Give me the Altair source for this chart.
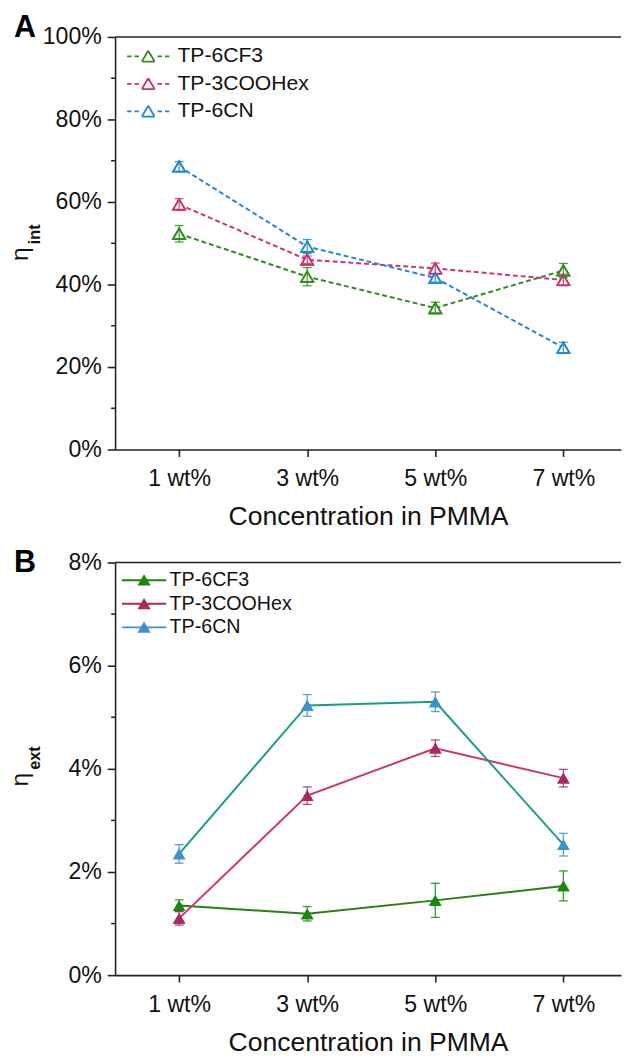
import altair as alt
import pandas as pd

# ---------------- data ----------------
conc = [1, 3, 5, 7]
series = ["TP-6CF3", "TP-3COOHex", "TP-6CN"]

# Panel A: eta_int (%)
int_cf3 = [52.3, 41.9, 34.3, 43.4]
int_cf3_err = [2.0, 2.2, 1.4, 1.7]
int_hex = [59.4, 46.0, 43.9, 41.1]
int_hex_err = [1.4, 0.9, 1.3, 1.4]
int_cn = [68.6, 49.2, 41.6, 24.7]
int_cn_err = [1.2, 1.7, 1.0, 1.3]

# Panel B: eta_ext (%)
ext_cf3 = [1.35, 1.19, 1.45, 1.73]
ext_cf3_err = [0.11, 0.14, 0.33, 0.29]
ext_hex = [1.10, 3.48, 4.40, 3.82]
ext_hex_err = [0.13, 0.17, 0.16, 0.17]
ext_cn = [2.35, 5.23, 5.30, 2.53]
ext_cn_err = [0.18, 0.21, 0.19, 0.22]

a_ticks = [0, 20, 40, 60, 80, 100]
a_minor = [10, 30, 50, 70, 90]
b_ticks = [0, 2, 4, 6, 8]
b_minor = [1, 3, 5, 7]

A_colors = ["#2e8b1e", "#d0306c", "#1f88cc"]
B_line = ["#2b7d16", "#cc3373", "#1b9c8a"]
B_marker = ["#178a0c", "#a8285f", "#3b92cb"]

FONT = "Liberation Sans"
W, H = 515, 420


def build(vals, errs):
    rows, caps = [], []
    for s, v, e in zip(series, vals, errs):
        for c, val, er in zip(conc, v, e):
            rows.append({"series": s, "conc": c, "val": val, "lo": val - er, "hi": val + er})
            caps.append({"series": s, "conc": c, "cap": val - er})
            caps.append({"series": s, "conc": c, "cap": val + er})
    return pd.DataFrame(rows), pd.DataFrame(caps)


dfA, capA = build([int_cf3, int_hex, int_cn], [int_cf3_err, int_hex_err, int_cn_err])
dfB, capB = build([ext_cf3, ext_hex, ext_cn], [ext_cf3_err, ext_hex_err, ext_cn_err])

xaxis = alt.Axis(values=conc, labelExpr="datum.value + ' wt%'", title="Concentration in PMMA",
                 grid=False, tickSize=7, labelPadding=11, titlePadding=14)


def xenc():
    return alt.X("conc:Q", scale=alt.Scale(domain=[0, 7.9], nice=False, zero=False), axis=xaxis)


def yaxis(vals):
    return alt.Axis(values=vals, labelExpr="datum.value + '%'", title=None, grid=False,
                    tickSize=8, labelPadding=6)


# open triangle drawn as separate segments (no fill area) with dashed line pieces
pathA = ("M-4.3,0H-3.4M-2.8,0H-1.9M1.9,0H2.8M3.4,0H4.3"
         "M0,-1.15L1.3,1.05M1.3,1.05L-1.3,1.05M-1.3,1.05L0,-1.15")
# solid line drawn as thin filled bars plus a filled triangle (all fill-based)
pathB = ("M-4.5,-0.2H-0.6V0.2H-4.5Z M0.6,-0.2H4.5V0.2H0.6Z "
         "M0,-1.2L1.35,1.1L-1.35,1.1Z")


def panel(df, caps, dom, ticks, minor, letter, sub, dashed):
    yscale = alt.Scale(domain=dom, nice=False, zero=True)
    y = alt.Y("val:Q", scale=yscale, axis=yaxis(ticks))
    base = alt.Chart(df)
    layers = []
    if dashed:
        cscale = alt.Scale(domain=series, range=A_colors)
        leg = alt.Legend(title=None, orient="none", legendX=23, legendY=9, symbolType=pathA,
                         symbolSize=100, symbolStrokeWidth=1.8, symbolOpacity=1,
                         symbolFillColor="white",
                         labelFontSize=21.5, labelFont=FONT, labelOffset=19,
                         rowPadding=5, labelColor="#111")
        pts = dict(shape="triangle-up", size=150, filled=False, fill="white", strokeWidth=1.8, opacity=1)
        layers.append(base.mark_point(**pts).encode(
            x=xenc(), y=y, color=alt.Color("series:N", scale=cscale, legend=leg)))
        layers.append(base.mark_line(strokeWidth=2, strokeDash=[5, 3]).encode(
            x=xenc(), y=y, color=alt.Color("series:N", scale=cscale, legend=None)))
        layers.append(base.mark_point(**pts).encode(
            x=xenc(), y=y, color=alt.Color("series:N", scale=cscale, legend=None)))
        err_color = alt.Color("series:N", scale=cscale, legend=None)
    else:
        lscale = alt.Scale(domain=series, range=B_line)
        mscale = alt.Scale(domain=series, range=B_marker)
        leg = alt.Legend(title=None, orient="none", legendX=19.5, legendY=8,
                         symbolType=pathB,
                         symbolSize=100, symbolStrokeWidth=0, symbolOpacity=1,
                         labelFontSize=20, labelFont=FONT, labelOffset=16,
                         rowPadding=4, labelColor="#111")
        pts = dict(shape="triangle-up", size=160, filled=True, opacity=1)
        layers.append(base.mark_point(**pts).encode(
            x=xenc(), y=y, color=alt.Color("series:N", scale=mscale, legend=leg)))
        layers.append(base.mark_line(strokeWidth=2).encode(
            x=xenc(), y=y, stroke=alt.Stroke("series:N", scale=lscale, legend=None)))
        layers.append(base.mark_point(**pts).encode(
            x=xenc(), y=y, color=alt.Color("series:N", scale=mscale, legend=None)))
        err_color = alt.Color("series:N", scale=mscale, legend=None)

    layers.append(base.mark_rule(strokeWidth=1.3, opacity=0.85).encode(
        x=xenc(), y=alt.Y("lo:Q", scale=yscale, axis=yaxis(ticks)), y2="hi:Q", color=err_color))
    layers.append(alt.Chart(caps).mark_tick(orient="horizontal", size=9, thickness=1.3, opacity=0.85).encode(
        x=xenc(), y=alt.Y("cap:Q", scale=yscale, axis=yaxis(ticks)), color=err_color))

    # minor ticks on the y axis
    layers.append(alt.Chart(pd.DataFrame({"val": minor})).mark_rule(color="#222", strokeWidth=1.6).encode(
        y=alt.Y("val:Q", scale=yscale, axis=yaxis(ticks)), x=alt.value(-4), x2=alt.value(0)))
    # top frame line
    layers.append(alt.Chart(pd.DataFrame({"a": [0]})).mark_rule(color="#222", strokeWidth=1.6).encode(
        y=alt.value(0), x=alt.value(0), x2=alt.value(W)))

    # y title: eta with subscript
    layers.append(alt.Chart(pd.DataFrame({"t": ["η"]})).mark_text(
        angle=270, align="left", baseline="alphabetic", font=FONT, fontSize=25, color="#111").encode(
        x=alt.value(-89), y=alt.value(228), text="t:N"))
    layers.append(alt.Chart(pd.DataFrame({"t": [sub]})).mark_text(
        angle=270, align="left", baseline="alphabetic", font=FONT, fontSize=16.5, fontWeight="bold",
        color="#111").encode(x=alt.value(-76), y=alt.value(211), text="t:N"))
    # panel letter
    layers.append(alt.Chart(pd.DataFrame({"t": [letter]})).mark_text(
        align="left", baseline="alphabetic", font=FONT, fontSize=31, fontWeight="bold",
        color="#000").encode(x=alt.value(-103), y=alt.value(0 if letter == "A" else 9.5), text="t:N"))

    return alt.layer(*layers).properties(width=W, height=H)


chartA = panel(dfA, capA, [0, 100], a_ticks, a_minor, "A", "int", True)
chartB = panel(dfB, capB, [0, 8], b_ticks, b_minor, "B", "ext", False)

chart = alt.vconcat(chartA, chartB, spacing=17).resolve_scale(
    color="independent", stroke="independent"
).resolve_legend(
    color="independent", stroke="independent"
).properties(
    padding={"left": 0, "top": -5, "right": 0, "bottom": 0}
).configure_view(stroke=None).configure_axis(
    labelFont=FONT, titleFont=FONT, labelFontSize=23.5, titleFontSize=27, titleFontWeight="normal",
    labelColor="#111", titleColor="#111", domainColor="#222", tickColor="#222",
    domainWidth=1.6, tickWidth=1.6
)

chart.save("out.html", embed_options={"renderer": "svg", "actions": False})
